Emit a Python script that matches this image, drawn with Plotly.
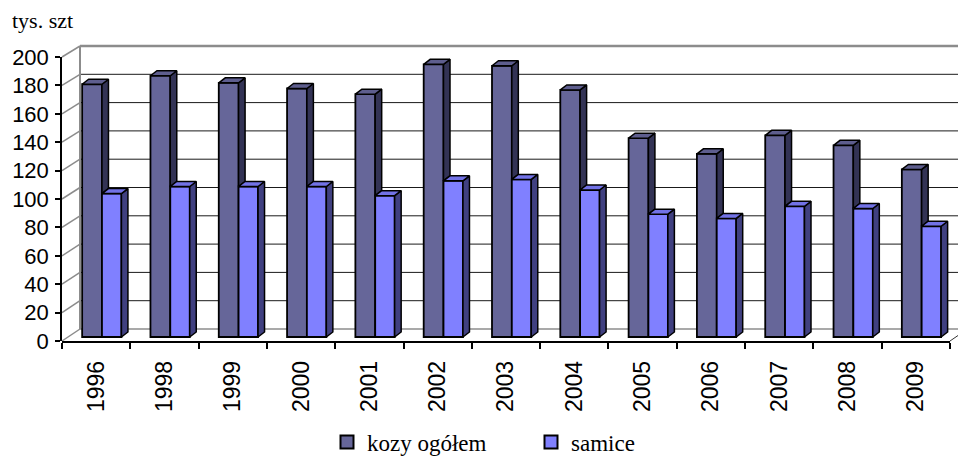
import plotly.graph_objects as go

# ---------------- data ----------------
years = ["1996", "1998", "1999", "2000", "2001", "2002", "2003",
         "2004", "2005", "2006", "2007", "2008", "2009"]
kozy = [178, 184, 179, 175, 171, 192, 191, 174, 140, 129, 142, 135, 118]
samice = [101, 106, 106, 106, 99.5, 110, 111, 103.5, 86.5, 83.5, 92, 90.5, 78]
y_ticks = [0, 20, 40, 60, 80, 100, 120, 140, 160, 180, 200]

# ---------------- geometry ----------------
W, H = 958, 458
ML, MR, MT, MB = 62, 0, 40, 117
PW, PH = W - ML - MR, H - MT - MB          # 896 x 301
X_END = 950                                 # right end of front axis (px)
n = len(years)
px_per_unit = 1.42                          # px per value unit (front)
SERIF = "Liberation Serif, Times New Roman, serif"
SANS = "Liberation Sans, Arial, sans-serif"

def paper_x(px):
    return (px - ML) / PW

def paper_y(py):
    return (H - MB - py) / PH

def front_px(v):     # value axis on the front-left
    return 341 - v * 284 / 200

def back_px(v):      # back wall gridlines
    return 329 - v * 283 / 200

# bar placement within a category (category units)
offK, wK = -0.205, 0.29
offS, wS = offK + wK, 0.285
dx = 6.5 / (888 / n)       # depth in category units
dy = 5 / px_per_unit       # depth in value units

C_K, C_K_SIDE, C_K_TOP = "#666699", "#333355", "#5e5e8e"
C_S, C_S_SIDE, C_S_TOP = "#8080ff", "#404080", "#7272e6"

fig = go.Figure()
idx = list(range(n))

fig.add_trace(go.Bar(
    x=idx, y=kozy, name="kozy ogółem", offset=offK, width=wK,
    marker=dict(color=C_K, line=dict(color="black", width=1.8)),
    hoverinfo="skip", showlegend=False))
fig.add_trace(go.Bar(
    x=idx, y=samice, name="samice", offset=offS, width=wS,
    marker=dict(color=C_S, line=dict(color="black", width=1.8)),
    hoverinfo="skip", showlegend=False))

# 3D faces derived from the data
def poly_trace(xs, ys, color):
    return go.Scatter(x=xs, y=ys, mode="lines", fill="toself",
                      fillcolor=color, line=dict(color="black", width=1.5),
                      hoverinfo="skip", showlegend=False)

ks_x, ks_y, kt_x, kt_y = [], [], [], []
ss_x, ss_y, st_x, st_y = [], [], [], []
for i, (k, s) in enumerate(zip(kozy, samice)):
    Lk, Rk = i + offK, i + offK + wK
    Ls, Rs = i + offS, i + offS + wS
    if k > s:
        ks_x += [Rk, Rk + dx, Rk + dx, Rk, Rk, None]
        ks_y += [s, s + dy, k + dy, k, s, None]
    kt_x += [Lk, Rk, Rk + dx, Lk + dx, Lk, None]
    kt_y += [k, k, k + dy, k + dy, k, None]
    ss_x += [Rs, Rs + dx, Rs + dx, Rs, Rs, None]
    ss_y += [0, dy, s + dy, s, 0, None]
    st_x += [Ls, Rs, Rs + dx, Ls + dx, Ls, None]
    st_y += [s, s, s + dy, s + dy, s, None]

fig.add_trace(poly_trace(ks_x, ks_y, C_K_SIDE))
fig.add_trace(poly_trace(kt_x, kt_y, C_K_TOP))
fig.add_trace(poly_trace(ss_x, ss_y, C_S_SIDE))
fig.add_trace(poly_trace(st_x, st_y, C_S_TOP))

# legend entries (square markers like the reference)
for name, col in [("kozy ogółem", C_K), ("samice", C_S)]:
    fig.add_trace(go.Scatter(
        x=[None], y=[None], mode="markers", name=name,
        marker=dict(symbol="square", size=13, color=col,
                    line=dict(color="black", width=2))))

# dummy trace so the front value axis is drawn
fig.add_trace(go.Scatter(x=[None], y=[None], yaxis="y2", mode="markers",
                         showlegend=False, hoverinfo="skip"))

# ---------------- wall / floor shapes ----------------
shapes = []
GREY = "#8c8c8c"
for v in y_ticks:
    if v == 0:
        col, wid = GREY, 1.5
    elif v == 200:
        col, wid = GREY, 2.5
    else:
        col, wid = "#1a1a1a", 1
    shapes.append(dict(type="line", xref="paper", yref="paper", layer="below",
                       x0=paper_x(80), x1=1, y0=paper_y(back_px(v)), y1=paper_y(back_px(v)),
                       line=dict(color=col, width=wid)))
    shapes.append(dict(type="line", xref="paper", yref="paper", layer="below",
                       x0=paper_x(ML), x1=paper_x(80),
                       y0=paper_y(front_px(v)), y1=paper_y(back_px(v)),
                       line=dict(color=GREY, width=1.5)))
shapes.append(dict(type="line", xref="paper", yref="paper", layer="below",
                   x0=paper_x(80), x1=paper_x(80),
                   y0=paper_y(back_px(0)), y1=paper_y(back_px(200)),
                   line=dict(color=GREY, width=2)))
shapes.append(dict(type="line", xref="paper", yref="paper", layer="below",
                   x0=paper_x(X_END), x1=paper_x(958),
                   y0=paper_y(341), y1=paper_y(335.5),
                   line=dict(color="#333333", width=1)))

bar_range = [-(341 - 337) / px_per_unit, (337 - MT) / px_per_unit]

fig.update_layout(
    width=W, height=H,
    font=dict(family=SERIF, color="black"),
    margin=dict(l=ML, r=MR, t=MT, b=MB, pad=0, autoexpand=False),
    paper_bgcolor="white", plot_bgcolor="rgba(0,0,0,0)",
    barmode="overlay",
    showlegend=True,
    legend=dict(orientation="h", xref="container", yref="container",
                x=327 / W, xanchor="left",
                y=(H - 442) / H, yanchor="middle",
                font=dict(family=SERIF, size=23, color="black"),
                entrywidth=159, itemsizing="trace", bgcolor="rgba(0,0,0,0)"),
    xaxis=dict(domain=[0, (X_END - ML) / PW], range=[-0.5, n - 0.5],
               tickvals=idx, ticktext=years, tickangle=-90,
               tickfont=dict(family=SANS, size=23, color="black"),
               ticks="", ticklabelstandoff=9, automargin=False,
               minor=dict(tickvals=[i - 0.5 for i in range(n + 1)], ticks="outside",
                          ticklen=6, tickwidth=1.5, tickcolor="black"),
               showline=True, linecolor="black", linewidth=1.5,
               showgrid=False, zeroline=False, anchor="y", fixedrange=True),
    yaxis=dict(domain=[0, 1], range=bar_range, visible=False,
               showgrid=False, zeroline=False, fixedrange=True),
    yaxis2=dict(domain=[0, 284 / PH], range=[0, 200], anchor="x",
                tickvals=y_ticks, ticks="outside", ticklen=5, tickwidth=1.5,
                tickcolor="black", showline=True, linecolor="black", linewidth=1.5,
                tickfont=dict(family=SANS, size=22, color="black"),
                ticklabelstandoff=2, automargin=False,
                showgrid=False, zeroline=False, fixedrange=True),
    shapes=shapes,
    annotations=[dict(text="tys. szt", xref="paper", yref="paper",
                      x=paper_x(10), y=paper_y(21), xanchor="left", yanchor="middle",
                      showarrow=False,
                      font=dict(family=SERIF, size=22, color="black"))],
)

fig.write_html("out.html", config={"displayModeBar": False},
               post_script="document.body.style.margin='0px';")
